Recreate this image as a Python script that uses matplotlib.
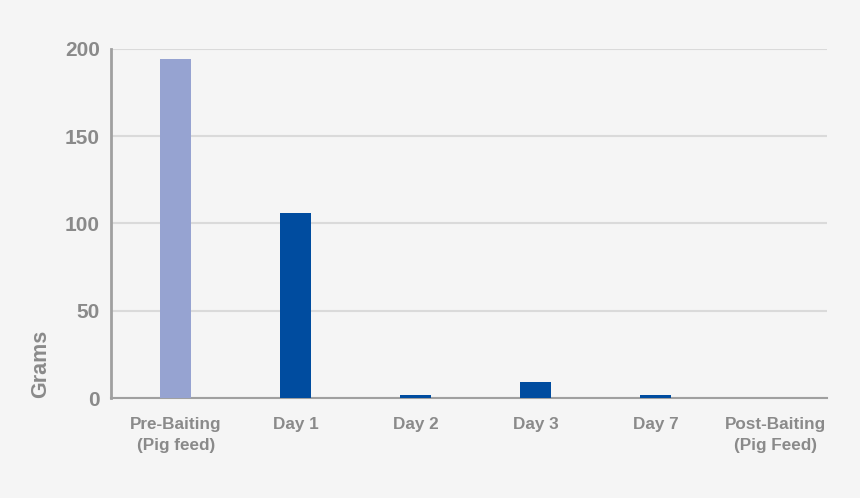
import matplotlib.pyplot as plt

categories = ["Pre-Baiting\n(Pig feed)", "Day 1", "Day 2", "Day 3", "Day 7", "Post-Baiting\n(Pig Feed)"]
grams = [194, 106, 2, 9, 1.5, 0]
bar_colors = ["#96a3d1", "#004c9f", "#004c9f", "#004c9f", "#004c9f", "#004c9f"]

bg = "#f5f5f5"
txt = "#8a8a8a"

plt.rcParams['font.family'] = ['Liberation Sans', 'DejaVu Sans']

fig = plt.figure(figsize=(8.6, 4.98), dpi=100, facecolor=bg)
ax = fig.add_axes([111 / 860, 1 - 398 / 498, (827 - 111) / 860, 349 / 498])
ax.set_facecolor(bg)

x = list(range(len(categories)))
ax.bar(x, grams, width=0.26, color=bar_colors, zorder=3)

ax.set_xlim(-0.54, 5.43)
ax.set_ylim(0, 200)
ax.set_yticks([0, 50, 100, 150, 200])
ax.set_xticks(x)
ax.set_xticklabels(categories, fontsize=12.3, color=txt, fontweight='bold', linespacing=1.5)
ax.tick_params(axis='y', labelsize=15, labelcolor=txt, length=0, pad=8)
ax.tick_params(axis='x', length=0, pad=14)
for lbl in ax.get_yticklabels():
    lbl.set_fontweight('bold')

ax.grid(axis='y', color='#dadada', linewidth=1.5, zorder=0)
for s in ['top', 'right']:
    ax.spines[s].set_visible(False)
ax.spines['left'].set_color('#a0a0a0')
ax.spines['left'].set_linewidth(2)
ax.spines['bottom'].set_color('#a0a0a0')
ax.spines['bottom'].set_linewidth(1.5)

fig.text(41 / 860, 1 - 364 / 498, "Grams", rotation=90, ha='center', va='center',
         fontsize=15.5, color=txt, fontweight='bold')

fig.savefig("out.png", dpi=100, facecolor=bg)
